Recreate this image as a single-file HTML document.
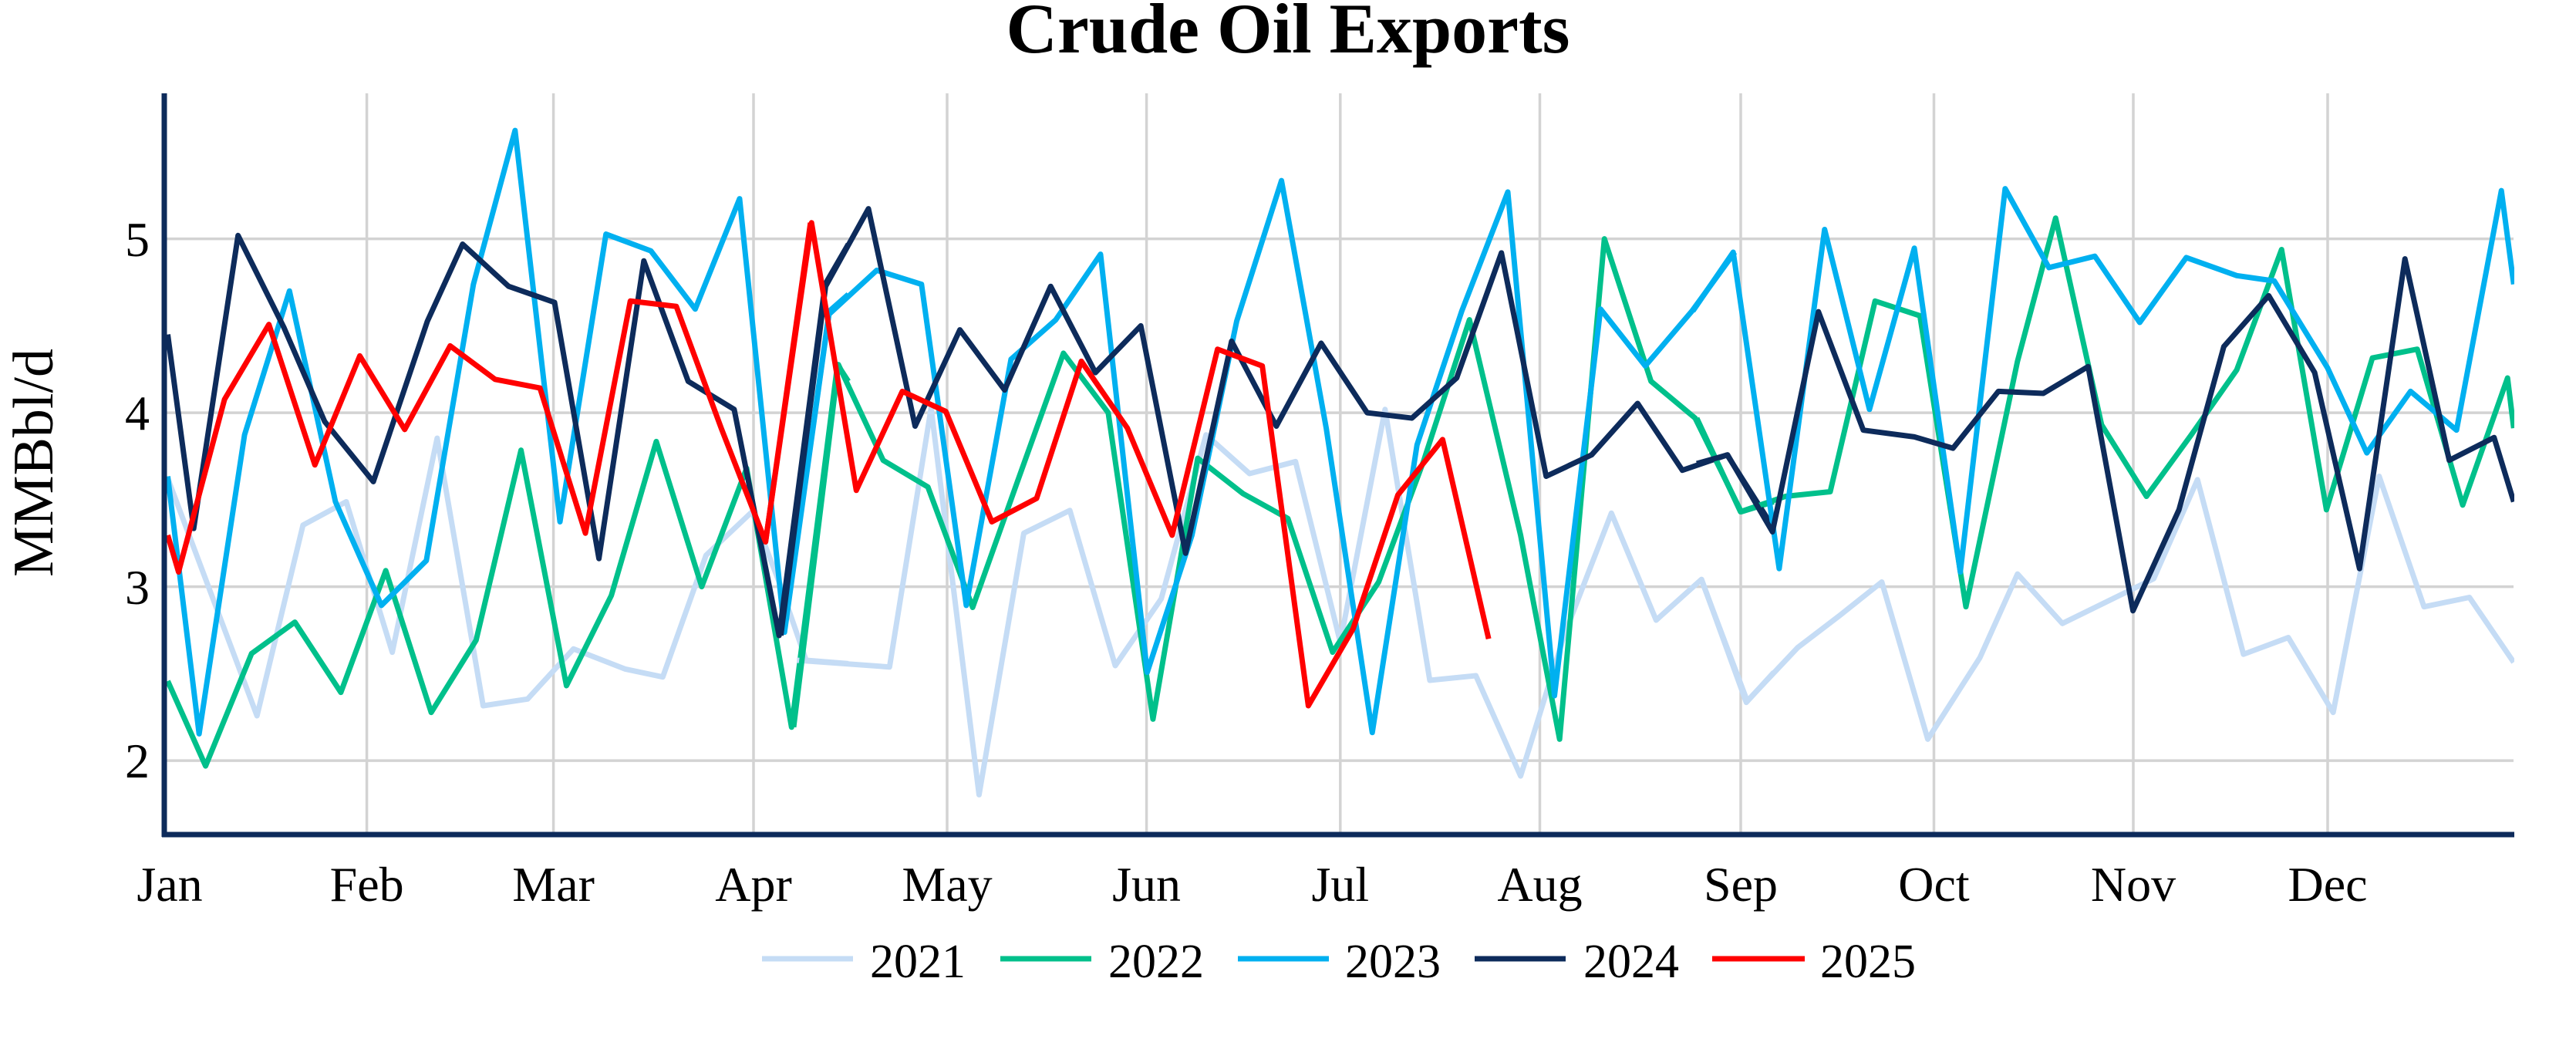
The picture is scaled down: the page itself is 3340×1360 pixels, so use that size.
<!DOCTYPE html>
<html><head><meta charset="utf-8"><style>
html,body{margin:0;padding:0;background:#fff;}
svg{display:block;}
text{font-family:"Liberation Serif","Times New Roman",serif;fill:#000;}
</style></head><body>
<svg width="3340" height="1360" viewBox="0 0 3340 1360" xmlns="http://www.w3.org/2000/svg">
<defs><clipPath id="pa"><rect x="210" y="100" width="3050" height="990"/></clipPath></defs>
<text x="1670" y="68" font-size="92" font-weight="bold" text-anchor="middle">Crude Oil Exports</text>
<g stroke="#d3d3d3" stroke-width="3.5">
<line x1="210" y1="309.6" x2="3259" y2="309.6"/>
<line x1="210" y1="535.1" x2="3259" y2="535.1"/>
<line x1="210" y1="760.6" x2="3259" y2="760.6"/>
<line x1="210" y1="986.1" x2="3259" y2="986.1"/>
<line x1="475.6" y1="121" x2="475.6" y2="1082"/>
<line x1="717.6" y1="121" x2="717.6" y2="1082"/>
<line x1="977" y1="121" x2="977" y2="1082"/>
<line x1="1228" y1="121" x2="1228" y2="1082"/>
<line x1="1486.6" y1="121" x2="1486.6" y2="1082"/>
<line x1="1737.8" y1="121" x2="1737.8" y2="1082"/>
<line x1="1996.5" y1="121" x2="1996.5" y2="1082"/>
<line x1="2257" y1="121" x2="2257" y2="1082"/>
<line x1="2507.5" y1="121" x2="2507.5" y2="1082"/>
<line x1="2766" y1="121" x2="2766" y2="1082"/>
<line x1="3018" y1="121" x2="3018" y2="1082"/>
</g>
<g clip-path="url(#pa)" fill="none" stroke-width="7" stroke-linejoin="round">
<g transform="translate(0,0) scale(0.7015,0.8673)">
<polyline vector-effect="non-scaling-stroke" stroke="#c5dcf5" points="310,715 475,1070 560,785 640,750 725,975 808,655 893,1055 975,1045 1060,970 1155,1000 1225,1012 1305,830 1390,765 1440,870 1490,987 1568,992"/>
<polyline vector-effect="non-scaling-stroke" stroke="#00c08b" points="310,1018 380,1145 465,977 545,930 630,1035 713,853 797,1065 880,957 963,673 1047,1025 1130,890 1213,660 1297,877 1380,700 1463,1087 1548,545 1568,570"/>
<polyline vector-effect="non-scaling-stroke" stroke="#00b0f0" points="310,712 368,1097 452,650 535,435 620,750 705,905 788,838 875,425 952,195 1035,780 1120,350 1203,375 1285,462 1367,297 1450,945 1533,465 1568,440"/>
<polyline vector-effect="non-scaling-stroke" stroke="#0d2b5b" points="310,500 358,790 440,352 525,490 600,630 690,720 790,480 855,365 940,428 1025,452 1107,835 1190,390 1272,570 1357,612 1440,950 1525,425 1568,365"/>
<polyline vector-effect="non-scaling-stroke" stroke="#ff0000" points="310,800 330,855 415,597 497,485 582,695 665,532 748,642 832,517 915,567 998,580 1082,797 1165,450 1250,458 1333,640 1415,810 1498,333"/>
</g>
<g transform="translate(1000,0) scale(0.829,0.8673)">
<polyline vector-effect="non-scaling-stroke" stroke="#c5dcf5" points="40,987 185,997 250,610 325,1188 395,797 467,763 538,995 610,895 680,650 748,708 820,690 890,960 960,612 1030,1017 1102,1010 1172,1160 1240,950 1314,767 1384,927 1455,866 1525,1050 1568,1005"/>
<polyline vector-effect="non-scaling-stroke" stroke="#00c08b" points="35,1087 105,545 175,688 245,728 315,908 385,720 457,528 527,617 597,1075 667,685 738,738 808,775 878,975 950,870 1020,690 1092,478 1172,800 1233,1105 1303,357 1376,570 1445,625 1517,765 1568,750"/>
<polyline vector-effect="non-scaling-stroke" stroke="#00b0f0" points="20,945 90,470 165,404 235,425 305,905 375,537 445,478 515,380 588,1005 658,800 728,480 798,270 868,640 940,1095 1010,665 1080,465 1152,287 1225,1040 1297,462 1367,547 1440,465 1507,377"/>
<polyline vector-effect="non-scaling-stroke" stroke="#0d2b5b" points="15,950 85,428 152,312 225,637 295,493 365,583 437,428 507,557 578,487 648,827 720,510 790,637 860,513 932,617 1002,625 1072,565 1142,378 1212,712 1283,680 1355,603 1425,703 1495,680 1568,790"/>
<polyline vector-effect="non-scaling-stroke" stroke="#ff0000" points="-9,810 63,333 133,733 205,585 273,615 345,780 415,745 485,540 557,640 627,800 698,522 768,547 840,1055 910,940 980,740 1050,657 1122,955"/>
</g>
<g transform="translate(2200,0) scale(0.727,0.8673)">
<polyline vector-effect="non-scaling-stroke" stroke="#c5dcf5" points="8,866 90,1048 180,968 255,920 330,870 412,1105 505,983 572,858 652,932 815,865 893,717 975,978 1055,953 1135,1065 1217,712 1297,907 1378,893 1457,990"/>
<polyline vector-effect="non-scaling-stroke" stroke="#00c08b" points="0,625 78,765 158,742 238,735 318,450 398,472 480,907 572,540 640,326 722,635 802,742 882,650 963,553 1043,373 1123,762 1205,535 1285,522 1366,755 1446,565 1457,640"/>
<polyline vector-effect="non-scaling-stroke" stroke="#00b0f0" points="-7,465 65,377 147,850 228,343 308,612 388,371 470,855 550,282 628,400 710,383 790,482 873,385 963,412 1030,420 1125,550 1195,677 1273,585 1355,643 1435,285 1457,425"/>
<polyline vector-effect="non-scaling-stroke" stroke="#0d2b5b" points="0,693 55,680 135,795 217,466 297,643 388,653 457,670 538,585 618,588 698,548 778,913 860,762 940,518 1020,442 1102,557 1182,850 1263,387 1342,688 1422,654 1457,750"/>
</g>
</g>
<line x1="213" y1="121" x2="213" y2="1085" stroke="#0d2b5b" stroke-width="7"/>
<line x1="210" y1="1082" x2="3260" y2="1082" stroke="#0d2b5b" stroke-width="7"/>
<g font-size="64" text-anchor="end">
<text x="194" y="332">5</text>
<text x="194" y="557">4</text>
<text x="194" y="783">3</text>
<text x="194" y="1008">2</text>
</g>
<g font-size="64" text-anchor="middle">
<text x="220" y="1168">Jan</text>
<text x="475.6" y="1168">Feb</text>
<text x="717.6" y="1168">Mar</text>
<text x="977" y="1168">Apr</text>
<text x="1228" y="1168">May</text>
<text x="1486.6" y="1168">Jun</text>
<text x="1737.8" y="1168">Jul</text>
<text x="1996.5" y="1168">Aug</text>
<text x="2257" y="1168">Sep</text>
<text x="2507.5" y="1168">Oct</text>
<text x="2766" y="1168">Nov</text>
<text x="3018" y="1168">Dec</text>
</g>
<text transform="translate(68,600) rotate(-90)" font-size="74" text-anchor="middle">MMBbl/d</text>
<g stroke-width="7">
<line x1="988" y1="1243" x2="1106" y2="1243" stroke="#c5dcf5"/>
<line x1="1297" y1="1243" x2="1415" y2="1243" stroke="#00c08b"/>
<line x1="1605" y1="1243" x2="1723" y2="1243" stroke="#00b0f0"/>
<line x1="1912" y1="1243" x2="2030" y2="1243" stroke="#0d2b5b"/>
<line x1="2220" y1="1243" x2="2340" y2="1243" stroke="#ff0000"/>
</g>
<g font-size="62">
<text x="1128" y="1267">2021</text>
<text x="1437" y="1267">2022</text>
<text x="1744" y="1267">2023</text>
<text x="2053" y="1267">2024</text>
<text x="2360" y="1267">2025</text>
</g>
</svg>
</body></html>
